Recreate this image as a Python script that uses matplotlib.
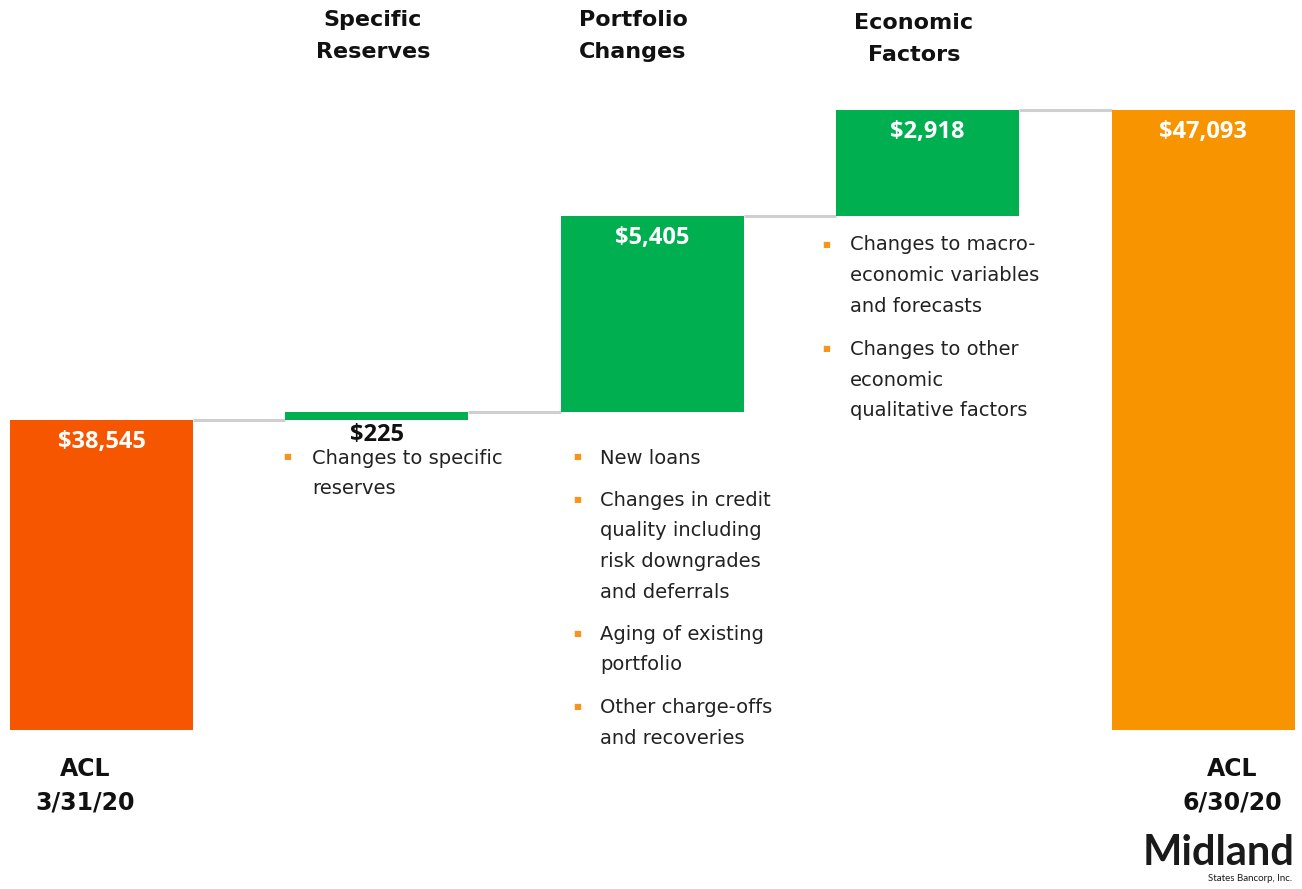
import matplotlib.pyplot as plt
import numpy as np

# waterfall data (in $ thousands)
steps = ["ACL\n3/31/20", "Specific\nReserves", "Portfolio\nChanges", "Economic\nFactors", "ACL\n6/30/20"]
start_value = 38545
changes = [225, 5405, 2918]
end_value = 47093
value_labels = ["$38,545", "$225", "$5,405", "$2,918", "$47,093"]

bullets_specific = [["Changes to specific", "reserves"]]
bullets_portfolio = [
    ["New loans"],
    ["Changes in credit", "quality including", "risk downgrades", "and deferrals"],
    ["Aging of existing", "portfolio"],
    ["Other charge-offs", "and recoveries"],
]
bullets_economic = [
    ["Changes to macro-", "economic variables", "and forecasts"],
    ["Changes to other", "economic", "qualitative factors"],
]

W, H = 1302, 889
base = 30000
col_start = "#F65600"
col_end = "#F79400"
col_up = "#00B050"
col_bullet = "#F7941D"
col_link = "#CFCFCF"

plt.rcParams["font.family"] = ["DejaVu Sans"]

fig = plt.figure(figsize=(W / 100, H / 100), dpi=100)
ax = fig.add_axes([0, 0, 1, 1])
step_px = 275.4
ax.set_xlim(-101.5 / step_px, (W - 101.5) / step_px)
ax.set_ylim(base - (H - 730) / 0.03627, base + 730 / 0.03627)
ax.axis("off")

x = np.arange(len(steps))
bar_w = 183 / step_px

# bottoms and tops of each bar
cum = np.cumsum([start_value] + changes)
bottoms = [base] + list(cum[:-1]) + [base]
tops = list(cum) + [end_value]
heights = [t - b for t, b in zip(tops, bottoms)]
colors = [col_start, col_up, col_up, col_up, col_end]

ax.bar(x, heights, bottom=bottoms, width=bar_w, color=colors, zorder=2)

# connector lines
for i in range(len(steps) - 1):
    ax.plot([x[i] + bar_w / 2, x[i + 1] - bar_w / 2], [tops[i], tops[i]],
            color=col_link, lw=2.2, zorder=1, solid_capstyle="butt")

# value labels
for i, lab in enumerate(value_labels):
    if heights[i] < 1000:
        ax.text(x[i], bottoms[i] - 70, lab, ha="center", va="top", fontsize=17,
                fontweight="bold", color="#111111", family=["Open Sans", "DejaVu Sans"])
    else:
        ax.text(x[i], tops[i] - 280, lab, ha="center", va="top", fontsize=17,
                fontweight="bold", color="white", family=["Open Sans", "DejaVu Sans"])


def px(xp, yp):
    return xp / W, 1 - yp / H


# category headings
head_pos = {1: (373, 10), 2: (633, 10), 3: (914, 13)}
for i, (xp, yp) in head_pos.items():
    fig.text(*px(xp, yp), steps[i], ha="center", va="top", fontsize=16,
             fontweight="bold", color="#111111", linespacing=1.75)
foot_pos = {0: (85, 757), 4: (1232, 757)}
for i, (xp, yp) in foot_pos.items():
    fig.text(*px(xp, yp), steps[i], ha="center", va="top", fontsize=17,
             fontweight="bold", color="#111111", linespacing=1.5)


def bullet_list(items, xb, xt, y0, line_h=30.5, gap=13):
    y = y0
    for item in items:
        fig.text(*px(xb, y - 1), "\u25A0", ha="center", va="center", fontsize=6, color=col_bullet)
        for line in item:
            fig.text(*px(xt, y), line, ha="left", va="center", fontsize=14, color="#222222")
            y += line_h
        y += gap


bullet_list(bullets_specific, 287, 312, 458)
bullet_list(bullets_portfolio, 577, 600, 458, gap=12)
bullet_list(bullets_economic, 826, 850, 245, gap=13)

# logo
fig.text(*px(1294, 865), "Midland", ha="right", va="baseline", fontsize=30,
         fontweight="bold", color="#1a1a1a", family=["Lato", "DejaVu Sans"])
fig.text(*px(1292, 881), "States Bancorp, Inc.", ha="right", va="baseline", fontsize=7,
         color="#1a1a1a", family=["Lato", "DejaVu Sans"])

fig.savefig("out.png", dpi=100)
